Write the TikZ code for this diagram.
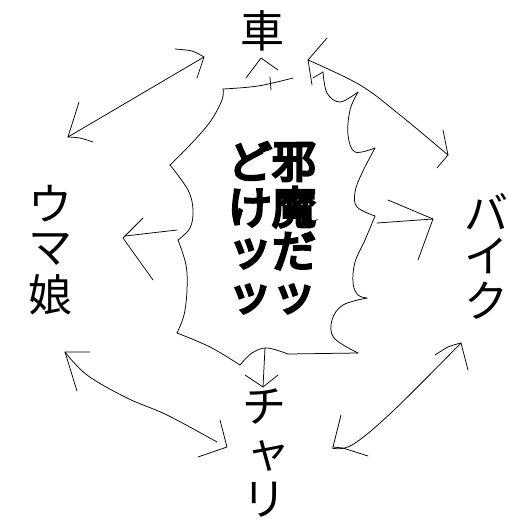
\documentclass[tikz,border=0pt]{standalone}
\usepackage{fontspec}
\newfontfamily\jp{Noto Sans CJK JP}
\newfontfamily\jpheavy{Noto Sans CJK JP}[FakeBold=6]
\begin{document}
\begin{tikzpicture}[x=1pt,y=-1pt,
  lbl/.style={font=\jp\fontsize{44}{44}\selectfont, inner sep=0pt},
  shout/.style={font=\jpheavy\fontsize{44}{44}\selectfont, inner sep=0pt},
  hand/.style={line width=0.75pt, line cap=round, line join=round}]
\useasboundingbox[fill=white] (0,0) rectangle (530,530);

% labels
\node[lbl] (kuruma) at (262,31) {車};
\node[lbl] (u) at (50,204) {ウ};
\node[lbl] (ma) at (50,249) {マ};
\node[lbl] (musume) at (50,295) {娘};
\node[lbl] (ba) at (486,212) {バ};
\node[lbl] (i) at (486,256) {イ};
\node[lbl] (ku) at (486,301) {ク};
\node[lbl] (chi) at (264,407) {チ};
\node[lbl] (ya) at (268,456) {ャ};
\node[lbl] (ri) at (264,500) {リ};

% central shout
\node[shout] (ja) at (294,162) {邪};
\node[shout] (mado) at (294,207) {魔};
\node[shout] (da) at (294,251) {だ};
\node[shout] (tsu1) at (294,299) {ッ};
\node[shout] (do) at (250,161) {ど};
\node[shout] (ke) at (250,208) {け};
\node[shout] (tsu2) at (250,254) {ッ};
\node[shout] (tsu3) at (250,299) {ッ};

% burst outline
\draw[hand] plot[smooth, tension=0.6] coordinates {(223,89) (258,86) (293,78)};
\draw[hand] (313,78) -- (323,72);
\draw[hand] plot[smooth, tension=0.6] coordinates {(323,72) (327,93) (340,102) (358,92)};
\draw[hand] plot[smooth, tension=0.6] coordinates {(358,92) (350,110) (348,135) (355,152) (375,148)};
\draw[hand] plot[smooth, tension=0.6] coordinates {(375,148) (362,173) (355,192) (357,207) (375,216)};
\draw[hand] plot[smooth, tension=0.6] coordinates {(375,216) (365,240) (355,262) (353,283) (358,295) (367,298)};
\draw[hand] plot[smooth, tension=0.6] coordinates {(367,298) (343,305) (332,320) (334,338) (358,353)};
\draw[hand] (358,353) -- (288,354);
\draw[hand] plot[smooth, tension=0.6] coordinates {(288,354) (267,348) (252,353) (240,365)};
\draw[hand] plot[smooth, tension=0.6] coordinates {(240,365) (210,347) (177,333)};
\draw[hand] plot[smooth, tension=0.6] coordinates {(177,333) (184,315) (187,290) (186,265) (178,240)};
\draw[hand] plot[smooth, tension=0.6] coordinates {(178,240) (190,228) (193,210) (188,190) (170,165)};
\draw[hand] plot[smooth, tension=0.6] coordinates {(170,165) (190,145) (210,122) (222,100) (223,89)};

% arrows from burst
\draw[hand] (271,90) -- (270,77);
\draw[hand] (246,78) -- (261,58) -- (278,70);
\draw[hand] (377,223) -- (433,219);
\draw[hand] (388,200) -- (433,219) -- (418,260);
\draw[hand] (177,230) -- (125,236);
\draw[hand] (143,218) -- (123,238) -- (153,280);
\draw[hand] (265,348) -- (263,387);
\draw[hand] (245,375) -- (263,387) -- (278,375);

% outer double arrows
\draw[hand] (68,137) -- (204,57);
\draw[hand] plot[smooth] coordinates {(175,49) (192,51) (204,57)} -- (197,78);
\draw[hand] (79,102) -- (68,137);
\draw[hand] plot[smooth] coordinates {(68,137) (80,138) (93,142)};

\draw[hand] plot[smooth, tension=0.6] coordinates {(308,60) (360,85) (400,115) (448,155)};
\draw[hand] (327,38) -- (308,60) -- (312,85);
\draw[hand] (443,130) -- (448,155) -- (437,168);

\draw[hand] plot[smooth, tension=0.6] coordinates {(332,448) (352,445) (392,412) (461,343)};
\draw[hand] plot[smooth] coordinates {(435,355) (448,347) (461,343)} -- (468,370);
\draw[hand] (341,415) -- (333,447) -- (343,448) -- (368,456);

\draw[hand] plot[smooth, tension=0.6] coordinates {(65,352) (87,375) (127,398) (167,415) (217,442)};
\draw[hand] (90,352) -- (65,352) -- (77,391);
\draw[hand] (220,420) -- (227,447) -- (198,457);
\end{tikzpicture}
\end{document}
